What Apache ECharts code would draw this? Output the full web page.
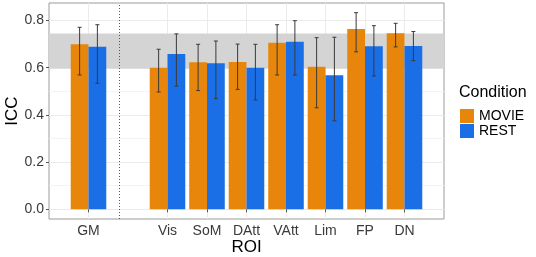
<!DOCTYPE html>
<html>
<head>
<meta charset="utf-8">
<script src="https://cdn.jsdelivr.net/npm/echarts@6/dist/echarts.min.js"></script>
<style>html,body{margin:0;padding:0;background:#fff;}#c{width:536px;height:257px;}</style>
</head>
<body>
<div id="c"></div>
<script>
// ---- data ----
var ROI = ['GM', 'Vis', 'SoM', 'DAtt', 'VAtt', 'Lim', 'FP', 'DN'];
var movieICC  = [0.699, 0.600, 0.623, 0.624, 0.706, 0.604, 0.764, 0.746];
var movieLow  = [0.569, 0.497, 0.503, 0.508, 0.569, 0.430, 0.667, 0.688];
var movieHigh = [0.771, 0.678, 0.699, 0.700, 0.782, 0.727, 0.833, 0.788];
var restICC   = [0.689, 0.658, 0.619, 0.600, 0.710, 0.568, 0.691, 0.692];
var restLow   = [0.534, 0.522, 0.469, 0.463, 0.569, 0.375, 0.565, 0.630];
var restHigh  = [0.782, 0.743, 0.713, 0.699, 0.799, 0.729, 0.778, 0.753];
var bandRange = [0.595, 0.745];
var yTicks = [0, 0.2, 0.4, 0.6, 0.8];
var yMinorTicks = [0.1, 0.3, 0.5, 0.7];
var conditions = ['MOVIE', 'REST'];

// ---- layout of slots: blank, GM, blank(separator), networks..., blank ----
var slots = [''];
var slotOf = [];
ROI.forEach(function (r, i) {
  if (i === 1) slots.push(' ');
  slotOf.push(slots.length);
  slots.push(r);
});
slots.push('  ');
var sepIndex = 2;

function slotArray(vals) {
  var a = slots.map(function () { return '-'; });
  vals.forEach(function (v, i) { a[slotOf[i]] = v; });
  return a;
}
function errData(lo, hi) {
  return lo.map(function (l, i) { return [slotOf[i], l, hi[i]]; });
}
var COLORS = ['#E8860B', '#1A6FE6'];
var FONT = 'Liberation Sans, Arial, sans-serif';

function errRender(sign) {
  return function (params, api) {
    var bw = api.size([1, 0])[0];
    var off = sign * bw * 0.225;
    var p1 = api.coord([api.value(0), api.value(1)]);
    var p2 = api.coord([api.value(0), api.value(2)]);
    var x = p1[0] + off;
    var cap = 2;
    var st = { stroke: '#3a3a3a', lineWidth: 1 };
    return {
      type: 'group',
      children: [
        { type: 'line', shape: { x1: x, y1: p1[1], x2: x, y2: p2[1] }, style: st },
        { type: 'line', shape: { x1: x - cap, y1: p1[1], x2: x + cap, y2: p1[1] }, style: st },
        { type: 'line', shape: { x1: x - cap, y1: p2[1], x2: x + cap, y2: p2[1] }, style: st }
      ]
    };
  };
}

var chart = echarts.init(document.getElementById('c'), null, { renderer: 'canvas' });
chart.setOption({
  animation: false,
  textStyle: { fontFamily: FONT },
  grid: {
    left: 49, top: 3, right: 92, bottom: 38,
    outerBoundsMode: 'none', containLabel: false,
    show: true, borderColor: '#9a9a9a', borderWidth: 1, backgroundColor: '#fff'
  },
  title: {
    text: 'Condition', left: 454, top: 80,
    textStyle: { fontFamily: FONT, fontSize: 16, fontWeight: 'normal', color: '#000' }
  },
  legend: {
    data: conditions, orient: 'vertical', left: 455, top: 104,
    icon: 'rect', itemWidth: 14, itemHeight: 14, itemGap: 1,
    textStyle: { fontFamily: FONT, fontSize: 14, color: '#000' }
  },
  xAxis: {
    type: 'category', data: slots, boundaryGap: false,
    axisLine: { show: false },
    axisTick: { show: true, length: 3, lineStyle: { color: '#555' },
      interval: function (i, v) { return v.trim() !== ''; } },
    axisLabel: { color: '#3a3a3a', fontSize: 14, margin: 5, fontFamily: FONT,
      interval: function (i, v) { return v.trim() !== ''; } },
    splitLine: { show: true, lineStyle: { color: '#ebebeb', width: 1 },
      interval: function (i, v) { return v.trim() !== ''; } },
    name: 'ROI', nameLocation: 'middle', nameGap: 20, nameMoveOverlap: false,
    nameTextStyle: { fontSize: 17, color: '#000', fontFamily: FONT }
  },
  yAxis: [{
    type: 'value', min: -0.0411, max: 0.874,
    axisLine: { show: false },
    axisTick: { show: true, length: 3, lineStyle: { color: '#555' }, customValues: yTicks },
    axisLabel: { color: '#3a3a3a', fontSize: 14, margin: 5, fontFamily: FONT, customValues: yTicks,
      formatter: function (v) { return v.toFixed(1); } },
    splitLine: { show: true, lineStyle: { color: '#ebebeb', width: 1 } },
    name: 'ICC', nameLocation: 'middle', nameGap: 28, nameMoveOverlap: false,
    nameTextStyle: { fontSize: 17, color: '#000', fontFamily: FONT }
  }, {
    type: 'value', min: -0.0411, max: 0.874, position: 'left',
    axisLine: { show: false },
    axisTick: { show: false, customValues: yMinorTicks },
    axisLabel: { show: false, customValues: yMinorTicks },
    splitLine: { show: true, lineStyle: { color: '#f3f3f3', width: 1 } }
  }],
  series: [{
    name: conditions[0], type: 'bar', data: slotArray(movieICC),
    barWidth: '45%', barGap: '0%',
    itemStyle: { color: COLORS[0] },
    markArea: {
      silent: true, itemStyle: { color: '#d4d4d4' },
      data: [[{ yAxis: bandRange[0] }, { yAxis: bandRange[1] }]]
    },
    markLine: {
      silent: true, symbol: 'none', label: { show: false },
      lineStyle: { color: '#555', type: [1, 2], width: 1 },
      data: [{ xAxis: sepIndex }]
    }
  }, {
    name: conditions[1], type: 'bar', data: slotArray(restICC),
    barWidth: '45%', barGap: '0%',
    itemStyle: { color: COLORS[1] }
  }, {
    type: 'custom', renderItem: errRender(-1), data: errData(movieLow, movieHigh),
    encode: { x: 0, y: [1, 2] }, z: 5
  }, {
    type: 'custom', renderItem: errRender(1), data: errData(restLow, restHigh),
    encode: { x: 0, y: [1, 2] }, z: 5
  }]
});
</script>
</body>
</html>
